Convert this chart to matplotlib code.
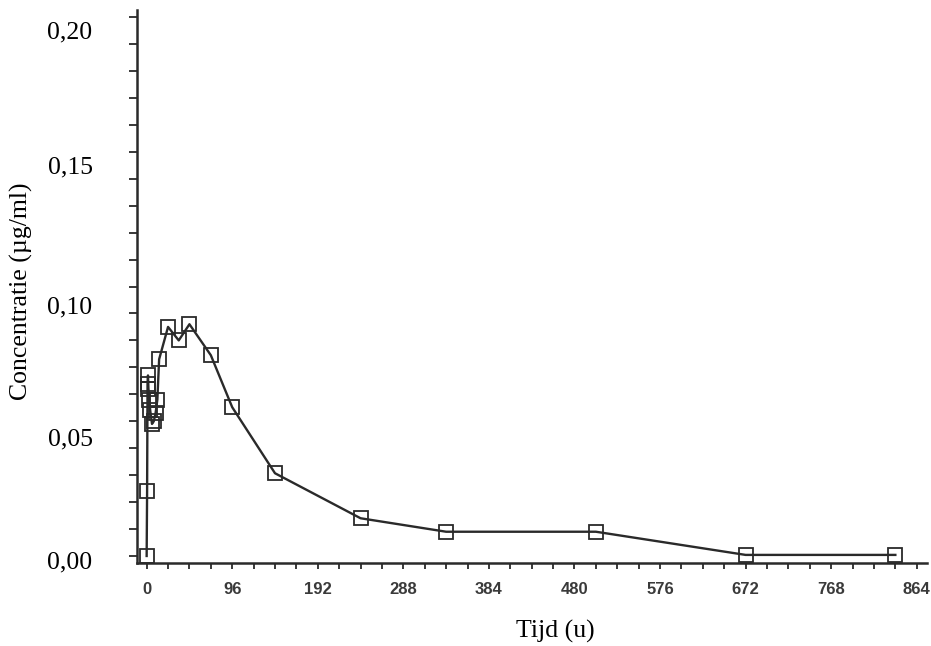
import numpy as np
import matplotlib.pyplot as plt
from matplotlib.ticker import MultipleLocator, FuncFormatter
from matplotlib.transforms import ScaledTranslation

# Sampling times (h) and measured concentration (ug/ml)
tijd = [0, 0.5, 1, 1.5, 2, 3, 4, 6, 8, 10, 12, 14,
        24, 36, 48, 72, 96, 144, 240, 336, 504, 672, 840]
conc = [0.000, 0.024, 0.064, 0.067, 0.062, 0.058, 0.054, 0.049, 0.050, 0.053, 0.058, 0.073,
        0.085, 0.080, 0.086, 0.0745, 0.0552, 0.0307, 0.0140, 0.0090, 0.0090, 0.0004, 0.0004]

y_ticks = [0.00, 0.05, 0.10, 0.15, 0.20]
x_major = 96
x_minor = 24
y_minor = 0.01

serif = ['Liberation Serif', 'DejaVu Serif']
ink = '#2a2a2a'

fig = plt.figure(figsize=(9.31, 6.46), dpi=100)
ax = fig.add_axes([0.1468, 0.1285, 0.9954 - 0.1468, 0.9845 - 0.1285])

ax.plot(tijd, conc, color=ink, lw=1.7, marker='s', ms=9.5,
        mfc='none', mec=ink, mew=1.3)

ax.set_xlim(-11.2, 875.2)
ax.set_ylim(-0.0026, 0.2026)

for side in ['top', 'right']:
    ax.spines[side].set_visible(False)
for side in ['left', 'bottom']:
    ax.spines[side].set_linewidth(1.8)
    ax.spines[side].set_color(ink)

ax.xaxis.set_major_locator(MultipleLocator(x_major))
ax.xaxis.set_minor_locator(MultipleLocator(x_minor))
ax.set_yticks(y_ticks)
ax.yaxis.set_minor_locator(MultipleLocator(y_minor))
ax.yaxis.set_major_formatter(FuncFormatter(lambda v, p: f'{v:.2f}'.replace('.', ',')))

ax.tick_params(axis='x', which='both', direction='out', length=4.5, width=1.3,
               color=ink, pad=9, labelsize=12, labelcolor='#3a3a3a')
ax.tick_params(axis='y', which='both', direction='out', length=5.8, width=1.3,
               color=ink, pad=26, labelsize=18.5, labelcolor='black')

for lab in ax.get_xticklabels():
    lab.set_fontweight('bold')
    lab.set_family(['Liberation Sans', 'DejaVu Sans'])

# labels in the original sit a little below their ticks (px, same order as y_ticks)
y_shift = [4, 16, 18, 13, 13]
for tick, s in zip(ax.yaxis.get_major_ticks(len(y_ticks)), y_shift):
    lab = tick.label1
    lab.set_family(serif)
    lab.set_transform(lab.get_transform() + ScaledTranslation(0, -s / 100, fig.dpi_scale_trans))

fig.text(21 / 931, 1 - 291 / 646, 'Concentratie (µg/ml)', rotation=90,
         ha='center', va='center', fontsize=18.5, family=serif)
fig.text(555 / 931, 1 - 631 / 646, 'Tijd (u)', ha='center', va='center',
         fontsize=18.5, family=serif)

fig.savefig('out.png', dpi=100)
